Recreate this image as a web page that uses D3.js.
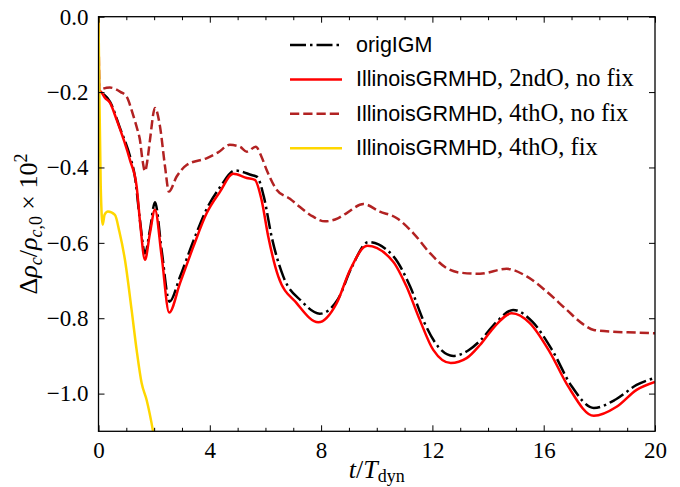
<!DOCTYPE html>
<html>
<head>
<meta charset="utf-8">
<script src="https://cdn.jsdelivr.net/npm/d3@7"></script>
<style>
  body { margin: 0; background: #fff; }
</style>
</head>
<body>
<svg id="chart" width="680" height="487"></svg>
<script>
// Central density change vs time (t / T_dyn), four evolutions
const tOrig = [0, 0.02, 0.08, 0.17, 0.41, 0.77, 1.13, 1.31, 1.49, 1.67, 1.85, 2.03, 2.27, 2.55, 2.93, 3.41, 3.89, 4.37, 4.9, 5.5, 5.7, 5.95, 6.22, 6.64, 7.3, 7.95, 8.6, 9.1, 9.7, 10.6, 11.2, 11.7, 12.2, 12.75, 13.3, 13.75, 14.3, 14.9, 15.6, 16.3, 17.0, 17.8, 18.6, 19.34, 20];
const vOrig = [0, -0.194, -0.2, -0.205, -0.225, -0.295, -0.37, -0.425, -0.54, -0.628, -0.565, -0.492, -0.62, -0.756, -0.69, -0.595, -0.51, -0.452, -0.408, -0.42, -0.425, -0.48, -0.583, -0.689, -0.755, -0.788, -0.75, -0.665, -0.598, -0.636, -0.716, -0.81, -0.875, -0.9, -0.885, -0.857, -0.81, -0.778, -0.81, -0.884, -0.98, -1.038, -1.015, -0.977, -0.958];

const t2nd = [0, 0.02, 0.1, 0.23, 0.41, 0.65, 1.13, 1.37, 1.5, 1.67, 1.85, 2.03, 2.27, 2.54, 2.93, 3.41, 3.89, 4.37, 4.84, 5.33, 5.62, 5.86, 6.1, 6.46, 7.12, 7.9, 8.56, 9.04, 9.66, 10.59, 11.07, 11.55, 12.03, 12.66, 13.23, 13.71, 14.19, 14.85, 15.5, 16.22, 16.88, 17.8, 18.62, 19.34, 20];
const v2nd = [0, -0.195, -0.2, -0.215, -0.228, -0.273, -0.38, -0.45, -0.55, -0.645, -0.574, -0.512, -0.636, -0.785, -0.707, -0.61, -0.521, -0.464, -0.417, -0.428, -0.433, -0.486, -0.583, -0.689, -0.76, -0.811, -0.76, -0.672, -0.608, -0.65, -0.716, -0.805, -0.884, -0.919, -0.906, -0.871, -0.826, -0.787, -0.813, -0.89, -0.981, -1.059, -1.035, -0.99, -0.969];

const t4th = [0, 0.03, 0.1, 0.41, 0.8, 1.01, 1.24, 1.4, 1.49, 1.58, 1.67, 1.76, 1.85, 2.03, 2.21, 2.39, 2.53, 2.81, 3.18, 3.9, 4.3, 4.72, 5.08, 5.33, 5.65, 5.85, 6.04, 6.4, 6.88, 7.24, 7.7, 8.14, 8.6, 8.92, 9.52, 10.11, 10.71, 11.31, 11.91, 12.51, 12.99, 13.71, 14.67, 15.39, 16.1, 16.83, 17.4, 17.8, 18.5, 19.3, 20];
const v4th = [0, -0.198, -0.193, -0.188, -0.2, -0.212, -0.26, -0.3, -0.327, -0.38, -0.41, -0.38, -0.327, -0.242, -0.291, -0.397, -0.464, -0.424, -0.393, -0.375, -0.36, -0.34, -0.345, -0.358, -0.345, -0.37, -0.406, -0.459, -0.483, -0.505, -0.53, -0.543, -0.535, -0.521, -0.497, -0.517, -0.534, -0.574, -0.627, -0.667, -0.679, -0.682, -0.669, -0.689, -0.729, -0.778, -0.815, -0.831, -0.836, -0.838, -0.84];

const tFix = [0, 0.03, 0.08, 0.15, 0.22, 0.34, 0.59, 0.75, 0.95, 1.19, 1.37, 1.55, 1.73, 1.96, 2.05];
const vFix = [0, -0.2, -0.45, -0.552, -0.525, -0.517, -0.526, -0.57, -0.645, -0.778, -0.884, -0.972, -1.017, -1.1, -1.14];

const legendSans = ["origIGM", "IllinoisGRMHD", "IllinoisGRMHD", "IllinoisGRMHD"];
const legendSerif = ["", ", 2ndO, no fix", ", 4thO, no fix", ", 4thO, fix"];

const xTicks = [0, 4, 8, 12, 16, 20];
const xMinor = [1, 2, 3, 5, 6, 7, 9, 10, 11, 13, 14, 15, 17, 18, 19];
const yTicks = [0, -0.2, -0.4, -0.6, -0.8, -1.0];

const series = [
  { t: tOrig, v: vOrig, color: "#000000", dash: "16,4,2.5,4" },
  { t: t2nd,  v: v2nd,  color: "#ff0000", dash: null },
  { t: t4th,  v: v4th,  color: "#b22222", dash: "9.25,4" },
  { t: tFix,  v: vFix,  color: "#ffd700", dash: null }
];

const SERIF = "Liberation Serif";
const SANS = "Liberation Sans";

const svg = d3.select("#chart");
const L = 98.5, T = 16.7, R = 655, B = 431.3;

const x = d3.scaleLinear().domain([0, 20]).range([L, R]);
const y = d3.scaleLinear().domain([-1.1, 0]).range([B, T]);

svg.append("defs").append("clipPath").attr("id", "plotclip")
  .append("rect").attr("x", L).attr("y", T).attr("width", R - L).attr("height", B - T);

// Curves
const line = d3.line().curve(d3.curveMonotoneX);
const plot = svg.append("g").attr("clip-path", "url(#plotclip)");
series.forEach(s => {
  const pts = s.t.map((tv, i) => [x(tv), y(s.v[i])]);
  plot.append("path")
    .attr("d", line(pts))
    .attr("fill", "none")
    .attr("stroke", s.color)
    .attr("stroke-width", 2.5)
    .attr("stroke-dasharray", s.dash)
    .attr("stroke-linejoin", "round");
});

// Axes with inward ticks on all four sides
const fmtY = d3.format(".1f");
const axB = d3.axisBottom(x).tickValues(xTicks).tickSizeInner(-6).tickSizeOuter(0).tickPadding(10).tickFormat(d3.format("d"));
const axT = d3.axisTop(x).tickValues(xTicks).tickSizeInner(-6).tickSizeOuter(0).tickFormat("");
const axL = d3.axisLeft(y).tickValues(yTicks).tickSizeInner(-6).tickSizeOuter(0).tickPadding(10).tickFormat(fmtY);
const axR = d3.axisRight(y).tickValues(yTicks).tickSizeInner(-6).tickSizeOuter(0).tickFormat("");
const mnB = d3.axisBottom(x).tickValues(xMinor).tickSizeInner(-3.5).tickSizeOuter(0).tickFormat("");
const mnT = d3.axisTop(x).tickValues(xMinor).tickSizeInner(-3.5).tickSizeOuter(0).tickFormat("");

function styleAxis(g) {
  g.attr("font-family", SERIF).attr("font-size", 23);
  g.selectAll("path.domain").remove();
  g.selectAll("line").attr("stroke", "#000").attr("stroke-width", 1);
  g.selectAll("text").attr("font-family", SERIF).attr("font-size", 23).attr("fill", "#000");
}
svg.append("g").attr("transform", `translate(0,${B})`).call(axB).call(styleAxis);
svg.append("g").attr("transform", `translate(0,${T})`).call(axT).call(styleAxis);
svg.append("g").attr("transform", `translate(${L},0)`).call(axL).call(styleAxis);
svg.append("g").attr("transform", `translate(${R},0)`).call(axR).call(styleAxis);
svg.append("g").attr("transform", `translate(0,${B})`).call(mnB).call(styleAxis);
svg.append("g").attr("transform", `translate(0,${T})`).call(mnT).call(styleAxis);

// Frame
svg.append("rect").attr("x", L).attr("y", T).attr("width", R - L).attr("height", B - T)
  .attr("fill", "none").attr("stroke", "#000").attr("stroke-width", 1.3);

// x label: t / T_dyn
const xl = svg.append("text").attr("x", (L + R) / 2).attr("y", 478)
  .attr("text-anchor", "middle").attr("font-family", SERIF).attr("font-size", 26).attr("fill", "#000");
xl.append("tspan").attr("font-style", "italic").text("t");
xl.append("tspan").text("/");
xl.append("tspan").attr("font-style", "italic").text("T");
xl.append("tspan").attr("font-size", 18).attr("dy", 4).text("dyn");

// y label: Δρ_c / ρ_{c,0} × 10^2
const yl = svg.append("text")
  .attr("transform", `translate(37,${(T + B) / 2}) rotate(-90)`)
  .attr("text-anchor", "middle").attr("font-family", SERIF).attr("font-size", 26).attr("fill", "#000");
yl.append("tspan").text("Δ");
yl.append("tspan").attr("font-style", "italic").text("ρ");
yl.append("tspan").attr("font-style", "italic").attr("font-size", 18).attr("dy", 5).text("c");
yl.append("tspan").attr("dy", -5).text("/");
yl.append("tspan").attr("font-style", "italic").text("ρ");
yl.append("tspan").attr("font-style", "italic").attr("font-size", 18).attr("dy", 5).text("c");
yl.append("tspan").attr("font-size", 18).text(",0");
yl.append("tspan").attr("dy", -5).text(" × 10");
yl.append("tspan").attr("font-size", 18).attr("dy", -10).text("2");

// Legend
const legY0 = 45, legDY = 34.4;
series.forEach((s, i) => {
  const cy = legY0 + i * legDY;
  svg.append("line").attr("x1", 290).attr("x2", 342).attr("y1", cy).attr("y2", cy)
    .attr("stroke", s.color).attr("stroke-width", 2.5).attr("stroke-dasharray", s.dash);
  const tx = svg.append("text").attr("x", 356).attr("y", cy + 7).attr("fill", "#000");
  tx.append("tspan").attr("font-family", SANS).attr("font-size", 21.5).text(legendSans[i]);
  if (legendSerif[i]) tx.append("tspan").attr("font-family", SERIF).attr("font-size", 24.5).text(legendSerif[i]);
});
</script>
</body>
</html>
